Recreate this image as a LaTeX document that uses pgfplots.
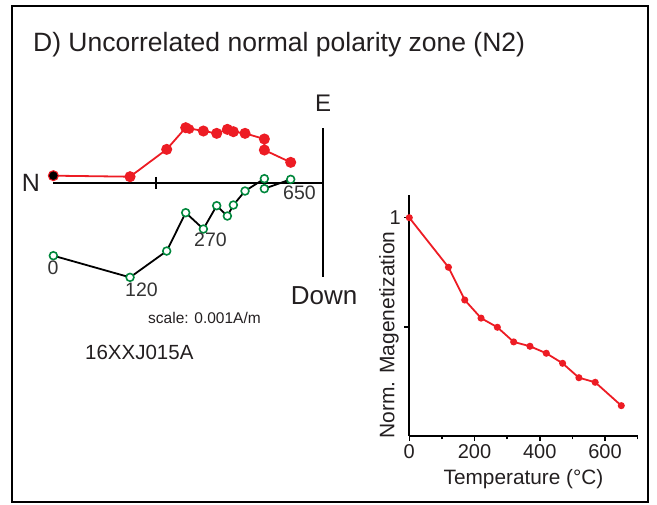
\documentclass[border=0pt]{standalone}
\usepackage{pgfplots}
\pgfplotsset{compat=1.18}
\usepackage{fontspec}
\setmainfont{Liberation Sans}
\definecolor{zred}{RGB}{237,28,36}
\definecolor{zgreen}{RGB}{0,135,60}
\definecolor{txt}{RGB}{35,31,32}
\begin{document}
\begin{tikzpicture}[x=1pt,y=1pt]
\useasboundingbox (0pt,0pt) rectangle (657pt,505pt);
\draw[line width=2pt] (12pt,499pt) rectangle (648pt,3pt);
\node[anchor=base west,inner sep=0,text=txt] at (33pt,453pt) {\fontsize{26.5}{30}\selectfont D) Uncorrelated normal polarity zone (N2)};

% Zijderveld diagram (units: mA/m)
\begin{axis}[at={(6.03pt,205.63pt)},anchor=south west,
  x=166.67pt,y=166.67pt,
  xmin=-1.9,xmax=0.3,ymin=-0.7,ymax=0.5,
  hide axis, clip=false]
\addplot[black,line width=2.2pt] coordinates {(-1.616,0) (0,0)};
\addplot[black,line width=2.2pt] coordinates {(0,0.326) (0,-0.564)};
\addplot[black,line width=1.5pt] coordinates {(-1,0.035) (-1,-0.035)};
% vertical projection
\addplot[black,line width=1.8pt, mark=*, mark size=3.9pt,
  mark options={draw=zgreen, fill=white, line width=1.6pt}] coordinates {
(-1.616,-0.438) (-1.156,-0.568) (-0.936,-0.410) (-0.822,-0.180)
(-0.716,-0.278) (-0.636,-0.138) (-0.572,-0.200) (-0.536,-0.134)
(-0.466,-0.050) (-0.350,0.024) (-0.350,-0.036) (-0.192,0.020)};
% horizontal projection
\addplot[zred,line width=1.8pt, mark=*, mark size=4.6pt] coordinates {
(-1.616,0.042) (-1.156,0.036) (-0.936,0.200) (-0.822,0.330)
(-0.716,0.310) (-0.636,0.296) (-0.572,0.320) (-0.536,0.306)
(-0.466,0.296) (-0.350,0.262) (-0.350,0.196) (-0.192,0.122)};
\addplot[black, only marks, mark=*, mark size=4pt] coordinates {(-1.616,0.042)};
\addplot[zred, only marks, mark=*, mark size=4.6pt] coordinates {(-0.800,0.322)};
\end{axis}

\node[anchor=base west,inner sep=0,text=txt] at (21.7pt,313.3pt) {\fontsize{25}{28}\selectfont N};
\node[anchor=base west,inner sep=0,text=txt] at (315pt,393.3pt) {\fontsize{24}{28}\selectfont E};
\node[anchor=base west,inner sep=0,text=txt] at (290.7pt,200pt) {\fontsize{26}{28}\selectfont Down};
\node[anchor=base west,inner sep=0,text=txt] at (148pt,181.7pt) {\fontsize{15.5}{18}\selectfont scale: 0.001A/m};
\node[anchor=base west,inner sep=0,text=txt] at (85pt,145pt) {\fontsize{20.5}{24}\selectfont 16XXJ015A};
\node[anchor=base,inner sep=0,text=black!80] at (53pt,230pt) {\fontsize{19.5}{22}\selectfont 0};
\node[anchor=base west,inner sep=0,text=black!80] at (125pt,208.3pt) {\fontsize{19.5}{22}\selectfont 120};
\node[anchor=base west,inner sep=0,text=black!80] at (194pt,258.3pt) {\fontsize{19.5}{22}\selectfont 270};
\node[anchor=base west,inner sep=0,text=black!80] at (283pt,305.7pt) {\fontsize{19.5}{22}\selectfont 650};

% demagnetization curve
\begin{axis}[at={(409.3pt,69pt)},anchor=south west,
  scale only axis, width=228.3pt, height=241pt,
  xmin=0,xmax=700,ymin=0,ymax=1.104,
  axis x line*=bottom, axis y line*=left,
  axis line style={line width=2pt,-},
  xtick={0,200,400,600}, minor xtick={100,300,500,700},
  ytick={0.5,1}, yticklabels={,1},
  tick align=outside, major tick length=5pt, minor tick length=3.5pt,
  every tick/.style={line width=1.5pt, black},
  ticklabel style={font=\fontsize{20}{24}\selectfont, text=txt},
  /pgf/number format/assume math mode=true,
  clip=false]
\addplot[zred,line width=1.8pt, mark=*, mark size=2.6pt] coordinates {
(0,1.0) (120,0.773) (170,0.623) (220,0.540) (270,0.498) (320,0.431)
(370,0.411) (420,0.379) (470,0.333) (520,0.267) (570,0.246) (650,0.139)};
\end{axis}
\node[anchor=base,inner sep=0,text=txt] at (523.5pt,20pt) {\fontsize{20.8}{24}\selectfont Temperature (°C)};
\node[anchor=base,inner sep=0,rotate=90,text=txt] at (394.3pt,170pt) {\fontsize{21}{24}\selectfont Norm. Magenetization};
\end{tikzpicture}
\end{document}
